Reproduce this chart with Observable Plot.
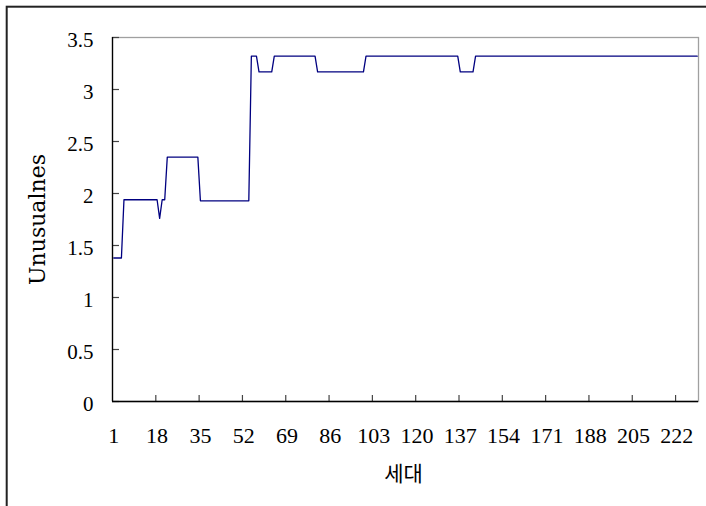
<!DOCTYPE html>
<html>
<head>
<meta charset="utf-8">
<script src="https://cdn.jsdelivr.net/npm/d3@7"></script>
<script src="https://cdn.jsdelivr.net/npm/@observablehq/plot@0.6"></script>
<style>
  html, body { margin: 0; padding: 0; background: #fff; }
</style>
</head>
<body>
<div id="chart"></div>
<script>
// Key points of the step line (generation, unusualness)
const generations = [1, 4, 5, 18, 19, 20, 21, 22, 34, 35, 54, 55, 57, 58, 63, 64, 80, 81, 99, 100, 136, 137, 142, 143, 230];
const unusualness = [1.38, 1.38, 1.94, 1.94, 1.76, 1.94, 1.94, 2.35, 2.35, 1.93, 1.93, 3.32, 3.32, 3.17, 3.17, 3.32, 3.32, 3.17, 3.17, 3.32, 3.32, 3.17, 3.17, 3.32, 3.32];
const xTickLabels = [1, 18, 35, 52, 69, 86, 103, 120, 137, 154, 171, 188, 205, 222];
const yTickValues = [0, 0.5, 1, 1.5, 2, 2.5, 3, 3.5];
const xTitle = "세대";
const yTitle = "Unusualnes";
const nGenerations = 230;

const data = generations.map((g, i) => ({g, v: unusualness[i]}));
const xDomain = [0.5, nGenerations + 0.5];
const xTickMarks = xTickLabels.slice(1).map(d => d - 0.5);
const serif = "'Liberation Serif', 'DejaVu Serif', serif";

const chart = Plot.plot({
  width: 706,
  height: 506,
  marginLeft: 112,
  marginRight: 8,
  marginTop: 37,
  marginBottom: 105,
  style: {background: "#fff", fontFamily: serif, color: "#000"},
  x: {type: "linear", domain: xDomain},
  y: {domain: [0, 3.5]},
  marks: [
    Plot.frame({stroke: "#a0a0a0", strokeWidth: 1.3}),
    Plot.line(data, {x: "g", y: "v", stroke: "#000080", strokeWidth: 1.3}),
    Plot.ruleY(yTickValues, {y: d => d, x1: xDomain[0], x2: xDomain[0], insetRight: -7, stroke: "#444", strokeWidth: 1.2}),
    Plot.ruleX(xTickMarks, {x: d => d, y1: 0, y2: 0, insetTop: -6, stroke: "#444", strokeWidth: 1.2}),
    Plot.ruleX([xDomain[0]], {stroke: "#000", strokeWidth: 1.3}),
    Plot.ruleY([0], {stroke: "#000", strokeWidth: 1.3}),
    Plot.axisY({ticks: yTickValues, tickSize: 0, tickPadding: 19, dy: 3, fontSize: 21, fontFamily: serif, label: null, tickFormat: d => String(d)}),
    Plot.axisX({ticks: xTickLabels, tickSize: 0, tickPadding: 26, fontSize: 22, fontFamily: serif, label: null, tickFormat: d => String(d)}),
    Plot.text([xTitle], {frameAnchor: "bottom", lineAnchor: "middle", textAnchor: "middle", dy: 73, dx: -2, fontSize: 21, fontFamily: "'Noto Sans CJK KR'", text: d => d}),
    Plot.text([yTitle], {frameAnchor: "left", textAnchor: "middle", lineAnchor: "middle", dx: -75, rotate: -90, fontSize: 22, fontFamily: "'DejaVu Serif', serif", text: d => d})
  ]
});

d3.select(chart).append("rect")
  .attr("x", 6.7).attr("y", 6.7)
  .attr("width", 800).attr("height", 600)
  .attr("fill", "none").attr("stroke", "#222").attr("stroke-width", 2);

document.getElementById("chart").appendChild(chart);
</script>
</body>
</html>
